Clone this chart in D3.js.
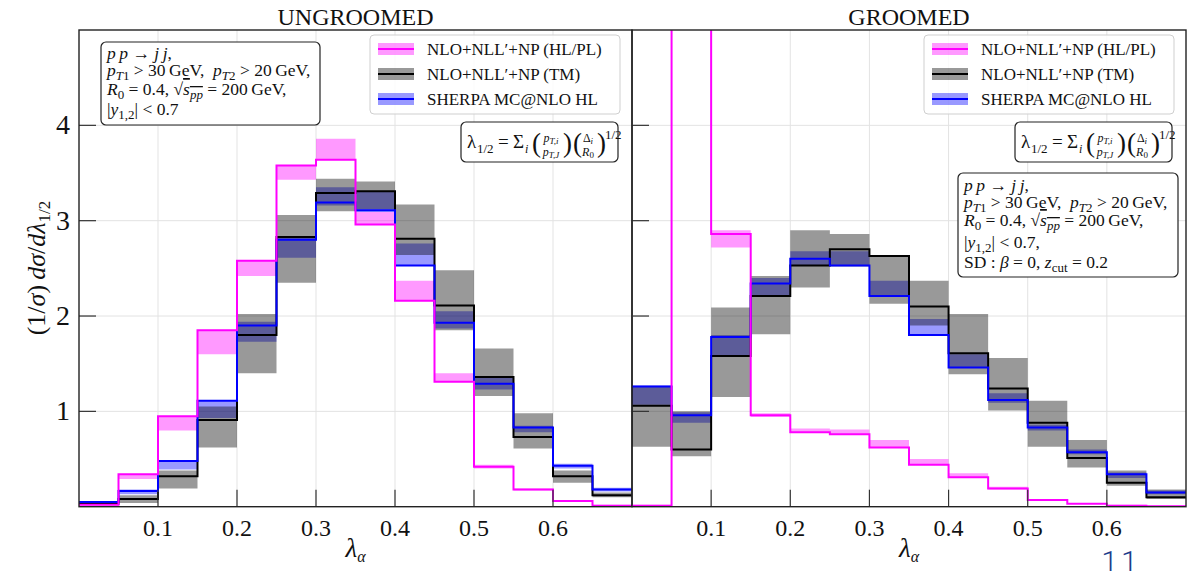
<!DOCTYPE html>
<html>
<head>
<meta charset="utf-8">
<script src="https://cdn.jsdelivr.net/npm/d3@7"></script>
<style>
  body { margin: 0; background: #fff; }
  svg text { font-family: "Liberation Serif", "DejaVu Serif", serif; fill: #111; }
</style>
</head>
<body>
<div id="chart"></div>
<script>
// bin edges of lambda_alpha
var binEdges = [0, 0.05, 0.1, 0.15, 0.2, 0.25, 0.3, 0.35, 0.4, 0.45, 0.5, 0.55, 0.6, 0.65, 0.7];
var xTicks = [0.1, 0.2, 0.3, 0.4, 0.5, 0.6];
var yTicks = [1, 2, 3, 4];

// UNGROOMED
var ugMag = [0.02, 0.34, 0.95, 1.85, 2.58, 3.58, 3.64, 2.96, 2.16, 1.31, 0.42, 0.18, 0.06, 0.01];
var ugMagLo = [0.01, 0.29, 0.80, 1.60, 2.42, 3.43, 3.64, 2.96, 2.16, 1.31, 0.40, 0.17, 0.05, 0.01];
var ugMagHi = [0.03, 0.34, 0.95, 1.85, 2.58, 3.58, 3.86, 3.09, 2.37, 1.40, 0.44, 0.19, 0.07, 0.02];
var ugTM = [0.03, 0.08, 0.32, 0.91, 1.80, 2.83, 3.29, 3.31, 2.81, 2.11, 1.36, 0.73, 0.32, 0.12];
var ugTMLo = [0.02, 0.04, 0.19, 0.62, 1.40, 2.35, 3.10, 3.12, 2.64, 1.85, 1.16, 0.61, 0.25, 0.10];
var ugTMHi = [0.05, 0.12, 0.38, 1.05, 2.02, 3.06, 3.44, 3.41, 3.17, 2.48, 1.66, 0.98, 0.38, 0.15];
var ugSh = [0.05, 0.165, 0.48, 1.11, 1.90, 2.80, 3.19, 3.11, 2.53, 1.93, 1.29, 0.83, 0.43, 0.18];
var ugShLo = [0.03, 0.13, 0.39, 0.93, 1.73, 2.61, 3.16, 3.09, 2.53, 1.87, 1.23, 0.78, 0.40, 0.16];
var ugShHi = [0.06, 0.18, 0.49, 1.12, 1.94, 2.83, 3.35, 3.30, 2.76, 2.05, 1.35, 0.85, 0.45, 0.20];

// GROOMED
var grMag = [0.01, 12, 2.86, 0.96, 0.78, 0.76, 0.62, 0.44, 0.31, 0.19, 0.07, 0.03, 0.01, 0.005];
var grMagLo = [0.005, 11, 2.72, 0.94, 0.78, 0.76, 0.62, 0.44, 0.31, 0.18, 0.06, 0.03, 0.01, 0.005];
var grMagHi = [0.02, 13, 2.90, 0.98, 0.82, 0.81, 0.70, 0.50, 0.35, 0.21, 0.08, 0.04, 0.02, 0.01];
var grTM = [1.06, 0.60, 1.58, 2.21, 2.53, 2.70, 2.63, 2.10, 1.61, 1.24, 0.88, 0.51, 0.25, 0.10];
var grTMLo = [0.63, 0.53, 1.15, 1.81, 2.30, 2.52, 2.13, 1.90, 1.39, 1.01, 0.63, 0.41, 0.22, 0.08];
var grTMHi = [1.26, 1.00, 2.09, 2.42, 2.90, 2.86, 2.63, 2.37, 2.02, 1.56, 1.11, 0.70, 0.38, 0.18];
var grSh = [1.26, 0.96, 1.78, 2.34, 2.60, 2.53, 2.21, 1.80, 1.46, 1.12, 0.83, 0.57, 0.34, 0.15];
var grShLo = [1.07, 0.88, 1.58, 2.21, 2.53, 2.53, 2.21, 1.80, 1.46, 1.09, 0.80, 0.55, 0.30, 0.13];
var grShHi = [1.27, 0.99, 1.80, 2.40, 2.68, 2.68, 2.37, 1.97, 1.60, 1.19, 0.86, 0.60, 0.36, 0.17];

var legendLabels = ["NLO+NLL\u2032+NP (HL/PL)", "NLO+NLL\u2032+NP (TM)", "SHERPA MC@NLO HL"];

var width = 1199, height = 571;
var plotTop = 30, plotBottom = 506.7;

var svg = d3.select("#chart").append("svg")
  .attr("width", width).attr("height", height);

var y = d3.scaleLinear().domain([0, 5]).range([plotBottom, plotTop]);

var panels = [
  { title: "UNGROOMED", left: 79, right: 632,
    mag: [ugMag, ugMagLo, ugMagHi], tm: [ugTM, ugTMLo, ugTMHi], sh: [ugSh, ugShLo, ugShHi] },
  { title: "GROOMED", left: 632, right: 1186,
    mag: [grMag, grMagLo, grMagHi], tm: [grTM, grTMLo, grTMHi], sh: [grSh, grShLo, grShHi] }
];

function stepData(vals, lo, hi) {
  return binEdges.map(function (e, i) {
    var k = Math.min(i, vals.length - 1);
    return { x: e, v: vals[k], lo: lo[k], hi: hi[k] };
  });
}

panels.forEach(function (p, pi) {
  var x = d3.scaleLinear().domain([0, 0.7]).range([p.left, p.right]);
  var g = svg.append("g");

  g.append("clipPath").attr("id", "clip" + pi)
    .append("rect").attr("x", p.left).attr("y", plotTop)
    .attr("width", p.right - p.left).attr("height", plotBottom - plotTop);

  // grid
  g.append("g").selectAll("line").data(xTicks).join("line")
    .attr("x1", d => x(d)).attr("x2", d => x(d))
    .attr("y1", plotTop).attr("y2", plotBottom)
    .attr("stroke", "#e3e3e3").attr("stroke-width", 1);
  g.append("g").selectAll("line").data(yTicks).join("line")
    .attr("y1", d => y(d)).attr("y2", d => y(d))
    .attr("x1", p.left).attr("x2", p.right)
    .attr("stroke", "#e3e3e3").attr("stroke-width", 1);

  var area = d3.area().x(d => x(d.x)).y0(d => y(d.lo)).y1(d => y(d.hi)).curve(d3.curveStepAfter);
  var line = d3.line().x(d => x(d.x)).y(d => y(d.v)).curve(d3.curveStepAfter);

  var plot = g.append("g").attr("clip-path", "url(#clip" + pi + ")");

  // bands
  plot.append("path").datum(stepData.apply(null, p.mag)).attr("d", area)
    .attr("fill", "#ff00ff").attr("fill-opacity", 0.4);
  plot.append("path").datum(stepData.apply(null, p.sh)).attr("d", area)
    .attr("fill", "#0000ff").attr("fill-opacity", 0.4);
  plot.append("path").datum(stepData.apply(null, p.tm)).attr("d", area)
    .attr("fill", "#000").attr("fill-opacity", 0.4);

  // lines
  plot.append("path").datum(stepData.apply(null, p.tm)).attr("d", line)
    .attr("fill", "none").attr("stroke", "#000").attr("stroke-width", 2);
  plot.append("path").datum(stepData.apply(null, p.sh)).attr("d", line)
    .attr("fill", "none").attr("stroke", "#0000ff").attr("stroke-width", 2);
  plot.append("path").datum(stepData.apply(null, p.mag)).attr("d", line)
    .attr("fill", "none").attr("stroke", "#ff00ff").attr("stroke-width", 2);

  // inward ticks
  g.append("g").selectAll("line").data(xTicks).join("line")
    .attr("x1", d => x(d)).attr("x2", d => x(d))
    .attr("y1", plotBottom).attr("y2", plotBottom - 17)
    .attr("stroke", "#333").attr("stroke-width", 1.2);
  g.append("g").selectAll("line").data(yTicks).join("line")
    .attr("x1", p.left).attr("x2", p.left + 17)
    .attr("y1", d => y(d)).attr("y2", d => y(d))
    .attr("stroke", "#333").attr("stroke-width", 1.2);

  // frame
  g.append("rect").attr("x", p.left).attr("y", plotTop)
    .attr("width", p.right - p.left).attr("height", plotBottom - plotTop)
    .attr("fill", "none").attr("stroke", "#222").attr("stroke-width", 1.4);

  // tick labels
  g.append("g").selectAll("text").data(xTicks).join("text")
    .attr("x", d => x(d)).attr("y", 536)
    .attr("text-anchor", "middle").attr("font-size", 24)
    .text(d => d3.format(".1f")(d));
  if (pi === 0) {
    g.append("g").selectAll("text").data(yTicks).join("text")
      .attr("x", p.left - 9).attr("y", d => y(d) + 9)
      .attr("text-anchor", "end").attr("font-size", 28)
      .text(d => d);
  }

  // titles and x label
  g.append("text").attr("x", (p.left + p.right) / 2).attr("y", 25)
    .attr("text-anchor", "middle").attr("font-size", 24)
    .text(p.title);
  g.append("text").attr("x", (p.left + p.right) / 2).attr("y", 557)
    .attr("text-anchor", "middle").attr("font-size", 27)
    .html('<tspan font-style="italic">λ</tspan><tspan dy="5" font-size="16" font-style="italic">α</tspan>');

  // legend
  var lx = p.right - 262, ly = 35;
  var lg = g.append("g");
  lg.append("rect").attr("x", lx).attr("y", ly).attr("width", 250).attr("height", 79)
    .attr("rx", 4).attr("fill", "#fff").attr("fill-opacity", 0.85)
    .attr("stroke", "#cfcfcf");
  var lcol = ["#ff00ff", "#000", "#0000ff"];
  legendLabels.forEach(function (lab, i) {
    var cy = ly + 14 + i * 25;
    lg.append("rect").attr("x", lx + 8).attr("y", cy - 6).attr("width", 36).attr("height", 12)
      .attr("fill", lcol[i]).attr("fill-opacity", 0.4);
    lg.append("line").attr("x1", lx + 8).attr("x2", lx + 44).attr("y1", cy).attr("y2", cy)
      .attr("stroke", lcol[i]).attr("stroke-width", 2);
    lg.append("text").attr("x", lx + 57).attr("y", cy + 6).attr("font-size", 17)
      .text(lab);
  });

  // formula box
  var fx = p.right - 171, fy = 122;
  g.append("rect").attr("x", fx).attr("y", fy).attr("width", 157).attr("height", 40)
    .attr("rx", 5).attr("fill", "#fff").attr("stroke", "#222").attr("stroke-width", 1.2);
  drawFormula(g, fx + 6, fy + 26);
});

function drawFormula(g, x0, y0) {
  function t(x, yy, size, txt, ital) {
    g.append("text").attr("x", x).attr("y", yy).attr("font-size", size)
      .attr("font-style", ital ? "italic" : "normal").text(txt);
  }
  t(x0, y0, 19, "λ");
  t(x0 + 10, y0 + 5, 13, "1/2");
  t(x0 + 31, y0, 19, "=");
  t(x0 + 46, y0, 19, "Σ");
  t(x0 + 58, y0 + 5, 12, "i", true);
  t(x0 + 65, y0 + 4, 27, "(");
  g.append("text").attr("x", x0 + 84).attr("y", y0 - 6).attr("font-size", 12)
    .attr("text-anchor", "middle").html('<tspan font-style="italic">p</tspan><tspan dy="2" font-size="9" font-style="italic">T,i</tspan>');
  g.append("text").attr("x", x0 + 84).attr("y", y0 + 8).attr("font-size", 12)
    .attr("text-anchor", "middle").html('<tspan font-style="italic">p</tspan><tspan dy="2" font-size="9" font-style="italic">T,J</tspan>');
  t(x0 + 96, y0 + 4, 27, ")");
  t(x0 + 106, y0 + 4, 27, "(");
  g.append("text").attr("x", x0 + 121).attr("y", y0 - 6).attr("font-size", 12)
    .attr("text-anchor", "middle").html('Δ<tspan dy="2" font-size="9" font-style="italic">i</tspan>');
  g.append("text").attr("x", x0 + 121).attr("y", y0 + 8).attr("font-size", 12)
    .attr("text-anchor", "middle").html('<tspan font-style="italic">R</tspan><tspan dy="2" font-size="9">0</tspan>');
  t(x0 + 130, y0 + 4, 27, ")");
  t(x0 + 138, y0 - 9, 13, "1/2");
}

// info boxes
var sub = function (s, ital) {
  return '<tspan dy="4" font-size="13"' + (ital ? ' font-style="italic"' : '') + '>' + s + '</tspan>';
};
var up = function (s) { return '<tspan dy="-4">' + s + '</tspan>'; };
var it = function (s) { return '<tspan font-style="italic">' + s + '</tspan>'; };
var infoLines = [
  it("p\u2009p") + " \u2192 " + it("j\u2009j") + ",",
  it("p") + '<tspan dy="4" font-size="13">' + it("T") + '1</tspan>' + up(" &gt; 30\u2009GeV,\u00a0\u00a0") +
    it("p") + '<tspan dy="4" font-size="13">' + it("T") + '2</tspan>' + up(" &gt; 20\u2009GeV,"),
  it("R") + sub("0") + up(" = 0.4, \u221A") + '<tspan style="text-decoration: overline">' + it("s") + sub("pp", true) + '</tspan>' + up(" = 200\u2009GeV,"),
  "|" + it("y") + sub("1,2") + up("| &lt; 0.7")
];
var infoExtra = "SD : " + it("β") + " = 0, " + it("z") + sub("cut") + up(" = 0.2");

function infoBox(x, yb, w, h, lines, baselines) {
  svg.append("rect").attr("x", x).attr("y", yb).attr("width", w).attr("height", h)
    .attr("rx", 5).attr("fill", "#fff").attr("stroke", "#222").attr("stroke-width", 1.2);
  lines.forEach(function (l, i) {
    svg.append("text").attr("x", x + 6).attr("y", baselines[i]).attr("font-size", 17.5).html(l);
  });
}
infoBox(101, 42, 219, 83, infoLines, [59, 76, 95, 115]);
var rLines = infoLines.slice(0, 3).concat([
  "|" + it("y") + sub("1,2") + up("| &lt; 0.7,"),
  infoExtra
]);
infoBox(958, 173, 220, 104, rLines, [191, 208, 226, 248, 268]);

// y label
svg.append("text").attr("transform", "translate(45,268) rotate(-90)")
  .attr("text-anchor", "middle").attr("font-size", 26)
  .html('(1/' + it("σ") + ')\u2009' + it("dσ") + '/' + it("dλ") + '<tspan dy="5" font-size="17">1/2</tspan>');

// slide page number
svg.append("text").attr("x", 1121).attr("y", 572).attr("text-anchor", "middle")
  .attr("font-size", 30).attr("font-weight", 300).attr("letter-spacing", 3)
  .style("font-family", "Roboto, sans-serif").style("fill", "#1c3c8c")
  .text("11");
</script>
</body>
</html>
